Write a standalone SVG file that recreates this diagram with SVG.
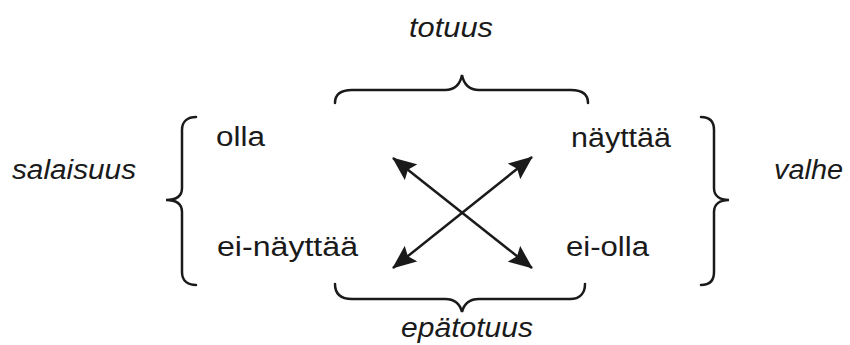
<svg xmlns="http://www.w3.org/2000/svg" width="850" height="345" viewBox="0 0 850 345">
<style>
text{font-family:"Liberation Sans",Arial,sans-serif;font-size:27px;fill:#1a1a1a}
.it{font-style:italic}
.br{fill:none;stroke:#1a1a1a;stroke-width:2.5;stroke-linecap:round}
.ar{stroke:#1a1a1a;stroke-width:2.5;marker-start:url(#ah);marker-end:url(#ah)}
</style>
<defs>
<marker id="ah" viewBox="0 0 24 20" markerWidth="24" markerHeight="20" refX="23" refY="10" markerUnits="userSpaceOnUse" orient="auto-start-reverse">
<path d="M0,0 L24,10 L0,20 L4,10 z" fill="#1a1a1a"/>
</marker>
</defs>
<rect width="850" height="345" fill="#fff"/>
<g id="brace-top"><path class="br" d="M335,103 C335,95 340,90 352,90 L445,90 C455,90 460,85 462,75 C464,85 469,90 479,90 L571,90 C583,90 588,95 588,103"/><text class="it" x="409" y="37" textLength="84" lengthAdjust="spacingAndGlyphs">totuus</text></g>
<g id="brace-bottom"><path class="br" d="M335,284 C335,293 340,299 352,299 L445,299 C455,299 460,304 462,312 C464,304 469,299 479,299 L570,299 C580,299 585,293 585,284"/><text class="it" x="401" y="337" textLength="132" lengthAdjust="spacingAndGlyphs">epätotuus</text></g>
<g id="brace-left"><path class="br" d="M196,117 C188,117 182,121 182,130 L182,188 C182,196 176,200 166,200 C176,200 182,204 182,212 L182,272 C182,281 188,285 196,285"/><text class="it" x="12" y="179" textLength="124" lengthAdjust="spacingAndGlyphs">salaisuus</text></g>
<g id="brace-right"><path class="br" d="M701,117 C709,117 714,121 714,130 L714,188 C714,196 720,200 729,200 C720,200 714,204 714,212 L714,272 C714,281 709,285 701,285"/><text class="it" x="774" y="179" textLength="69" lengthAdjust="spacingAndGlyphs">valhe</text></g>
<g id="olla"><text x="216" y="146" textLength="49" lengthAdjust="spacingAndGlyphs">olla</text></g>
<g id="nayttaa"><text x="571" y="147" textLength="100" lengthAdjust="spacingAndGlyphs">näyttää</text></g>
<g id="ei-nayttaa"><text x="217" y="256" textLength="141" lengthAdjust="spacingAndGlyphs">ei-näyttää</text></g>
<g id="ei-olla"><text x="566" y="256" textLength="83" lengthAdjust="spacingAndGlyphs">ei-olla</text></g>
<g id="connectors">
<line class="ar" x1="393" y1="158" x2="532" y2="268"/>
<line class="ar" x1="393" y1="268" x2="532" y2="157"/>
</g>
</svg>
